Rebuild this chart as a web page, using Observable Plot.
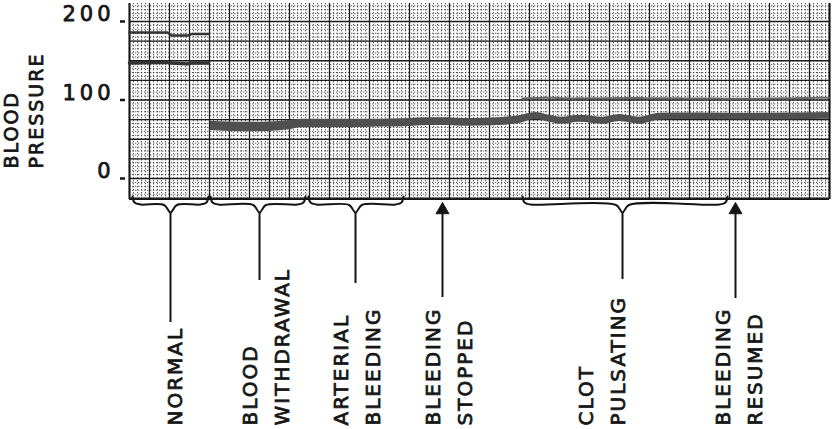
<!DOCTYPE html>
<html><head><meta charset="utf-8">
<script src="https://cdn.jsdelivr.net/npm/d3@7"></script>
<script src="https://cdn.jsdelivr.net/npm/@observablehq/plot@0.6"></script>
<style>
body{margin:0;background:#fff;width:832px;height:429px;overflow:hidden}
#chart svg{display:block}
#chart svg text{letter-spacing:2px;stroke:#151515;stroke-width:0.75px}
#chart svg [aria-label="y-axis tick label"] text{letter-spacing:4px}
#notes{margin-top:-6px}
</style></head><body><div id="chart"></div>
<script>
// ---- data read from the recording ----
const yTicks = [0, 100, 200];
const yTickLabels = ["0", "100", "200"];
const yTitle = "BLOOD\nPRESSURE";

// normal phase: systolic and diastolic traces
const normalTime = [0, 9.5, 10.5, 14.5, 15.5, 19.75];
const normalSystolic = [186, 186, 182, 182, 184, 184];
const normalDiastolic = [147, 148, 147, 146, 147, 147];

// after withdrawal: pressure band (low / high edge)
const bandTime = [20.25, 25, 30, 35, 40, 43, 50, 55, 62, 68, 72, 78, 85, 92.5, 97.5, 101.5, 105, 108, 112.5, 118.5, 122.5, 127.5, 132.5, 142.5, 157.5, 175];
const bandLow  = [61, 60, 59.5, 60, 62, 64.5, 64.5, 64.5, 65.5, 66, 67, 67.5, 66.5, 67.5, 70, 75, 71.5, 69, 71.5, 69, 72.5, 69, 74.5, 75, 74.5, 75.5];
const bandHigh = [73, 72, 71.5, 72, 74, 75.5, 75.5, 75.5, 75.5, 76, 77, 77.5, 76.5, 77.5, 80, 84, 80.5, 78, 80.5, 78, 81.5, 78, 83, 83.5, 83, 84];

// faint pulsation peaks while the clot pulsates
const peakTime = [98.25, 105, 110, 125, 140, 155, 175];
const peakValue = [102, 103, 102, 102.5, 102, 101.5, 103];

// annotations (time units)
const braceStart = [0.75, 20.25, 44.75, 98.25];
const braceEnd   = [19.75, 44, 68.5, 149.5];
const braceMid   = [10.25, 32.5, 56.5, 123.25];
const arrowTime  = [78.25, 151.5];
const labelTime  = [10.5, 33.25, 56, 79, 117.4, 151.6];
const labelText  = ["NORMAL", "BLOOD\nWITHDRAWAL", "ARTERIAL\nBLEEDING", "BLEEDING\nSTOPPED", "CLOT\nPULSATING", "BLEEDING\nRESUMED"];

// ---- build ----
const X_DOMAIN = [0, 175];
const Y_DOMAIN = [-26.75, 222.9];
const INK = "#151515";

const normal = normalTime.map((t, i) => ({t, sys: normalSystolic[i], dia: normalDiastolic[i]}));
const band = bandTime.map((t, i) => ({t, lo: bandLow[i], hi: bandHigh[i]}));
const peaks = peakTime.map((t, i) => ({t, v: peakValue[i]}));

const chart = Plot.plot({
  width: 832, height: 200,
  marginTop: 3, marginBottom: 1, marginLeft: 129, marginRight: 3,
  x: {domain: X_DOMAIN, axis: null},
  y: {domain: Y_DOMAIN},
  style: {fontFamily: "DejaVu Sans", background: "white", color: INK},
  marks: [
    Plot.gridX(d3.range(0, 175.01, 1), {stroke: "#222", strokeOpacity: 0.75, strokeDasharray: "1.3,1.7"}),
    Plot.gridY(d3.range(-25, 222, 5), {stroke: "#222", strokeOpacity: 0.75, strokeDasharray: "1.3,1.7"}),
    Plot.gridX(d3.range(0, 175.01, 5), {stroke: "#1c1c1c", strokeOpacity: 1, strokeWidth: 1.3}),
    Plot.gridY(d3.range(-25, 222, 25), {stroke: "#1c1c1c", strokeOpacity: 1, strokeWidth: 1.3}),
    Plot.ruleX(X_DOMAIN, {stroke: INK, strokeWidth: 2}),
    Plot.ruleY([Y_DOMAIN[0]], {stroke: INK, strokeWidth: 2.5}),
    Plot.areaY(band, {x: "t", y1: "lo", y2: "hi", fill: "#505050", curve: "monotone-x"}),
    Plot.lineY(peaks, {x: "t", y: "v", stroke: "#666", strokeWidth: 2, strokeDasharray: "2,1.5"}),
    Plot.lineY(normal, {x: "t", y: "sys", stroke: "#333", strokeWidth: 2.5}),
    Plot.lineY(normal, {x: "t", y: "dia", stroke: "#333", strokeWidth: 3.5}),
    Plot.axisY({ticks: yTicks, tickFormat: d => yTickLabels[yTicks.indexOf(d)], tickSize: 0, tickPadding: 15, lineAnchor: "bottom", fontSize: 21, fill: INK}),
    Plot.axisY({ticks: yTicks, tickFormat: () => "", tickSize: 5, dx: -4, stroke: INK, strokeWidth: 2.5}),
    Plot.text([yTitle], {frameAnchor: "bottom-left", dx: -107, dy: -31, rotate: -90, textAnchor: "start", lineAnchor: "middle", lineHeight: 1.3, fontSize: 19, fill: INK})
  ]
});

// annotation layer below the chart (depth measured downward)
const braces = braceStart.flatMap((a, i) => {
  const b = braceEnd[i], m = braceMid[i];
  return [[a, 2], [a + 0.5, 8], [a + 2, 10], [m - 1.6, 10.5], [m, 18], [m + 1.6, 10.5], [b - 2, 10], [b - 0.5, 8], [b, 2]]
    .map(([t, d]) => ({t, d, id: i}));
});
const leaderDepth = [128, 86, 89, 85];
const arrowDepth = [103, 104];
const leaders = braceMid.map((t, i) => ({t, d: leaderDepth[i]}));
const arrows = arrowTime.map((t, i) => ({t, d: arrowDepth[i]}));
const labels = labelTime.map((t, i) => ({t, text: labelText[i]}));

const notes = Plot.plot({
  width: 832, height: 235,
  marginTop: 0, marginBottom: 0, marginLeft: 129, marginRight: 3,
  x: {domain: X_DOMAIN, axis: null},
  y: {domain: [0, 235], range: [0, 235], axis: null},
  style: {fontFamily: "DejaVu Sans", background: "transparent", color: INK},
  marks: [
    Plot.line(braces, {x: "t", y: "d", z: "id", stroke: INK, strokeWidth: 2, curve: "catmull-rom"}),
    Plot.ruleX(leaders, {x: "t", y1: 18, y2: "d", stroke: INK, strokeWidth: 2}),
    Plot.ruleX(arrows, {x: "t", y1: 14, y2: "d", stroke: INK, strokeWidth: 2}),
    Plot.dot(arrows, {x: "t", y: 15.5, symbol: "triangle", r: 4.8, fill: INK, stroke: INK, strokeWidth: 1}),
    Plot.text(labels, {x: "t", y: 231, text: "text", rotate: -90, textAnchor: "start", lineAnchor: "middle", lineHeight: 1.6, fontSize: 20, fill: INK})
  ]
});
notes.id = "notes";

const root = document.getElementById("chart");
root.append(chart, notes);
</script>
</body></html>
